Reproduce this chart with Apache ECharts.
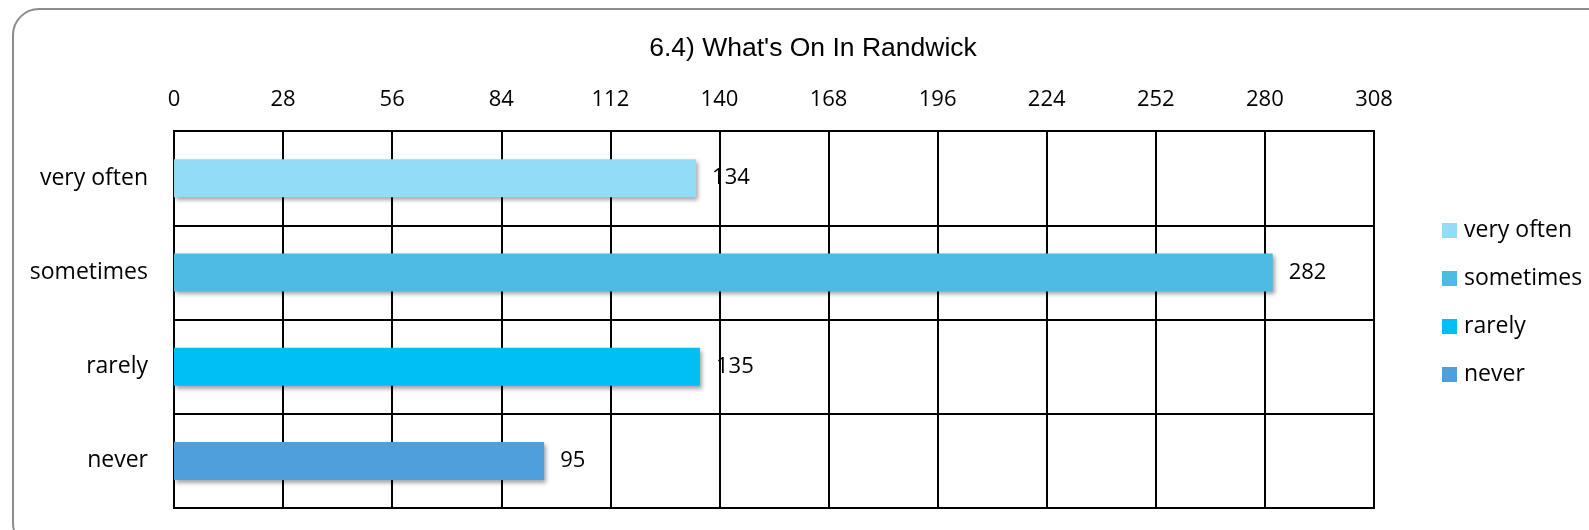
<!DOCTYPE html>
<html>
<head>
<meta charset="utf-8">
<script src="https://cdn.jsdelivr.net/npm/echarts@6/dist/echarts.min.js"></script>
<style>
html,body{margin:0;padding:0;background:#fff;}
#chart{width:1589px;height:530px;}
</style>
</head>
<body>
<div id="chart"></div>
<script>
const titleText = "6.4) What's On In Randwick";
const categories = ["very often", "sometimes", "rarely", "never"];
const values = [134, 282, 135, 95];
const colors = ["#92DCF7", "#4DBBE3", "#00C0F3", "#4E9FDC"];
const axisMin = 0, axisMax = 308, axisStep = 28;

const font = "Open Sans";
const chart = echarts.init(document.getElementById('chart'));

const series = categories.map((name, i) => ({
  name: name,
  type: 'bar',
  stack: 'all',
  barWidth: 38,
  data: categories.map((c, j) => (j === i ? values[i] : '-')),
  itemStyle: {
    color: colors[i],
    shadowColor: 'rgba(0,0,0,0.35)',
    shadowBlur: 4,
    shadowOffsetX: 2,
    shadowOffsetY: 3
  },
  label: {
    show: true,
    position: 'right',
    distance: 16,
    color: '#000',
    fontFamily: font,
    fontSize: 22,
    padding: [4, 0, 0, 0]
  },
  z: 3
}));

chart.setOption({
  animation: false,
  backgroundColor: '#fff',
  graphic: [{
    type: 'rect',
    shape: { x: 13, y: 9, width: 1600, height: 540, r: 26 },
    style: { fill: 'none', stroke: '#8c8c8c', lineWidth: 2 },
    z: -1
  }],
  title: {
    text: titleText,
    left: 808,
    textAlign: 'center',
    top: 30,
    textStyle: { fontFamily: 'Liberation Sans', fontSize: 26.5, fontWeight: 'normal', color: '#000' }
  },
  legend: {
    orient: 'vertical',
    left: 1437,
    top: 214,
    itemWidth: 15,
    itemHeight: 15,
    itemGap: 25,
    icon: 'rect',
    textStyle: { fontFamily: font, fontSize: 23, color: '#000', padding: [0, 0, 0, 2] },
    data: categories
  },
  grid: {
    left: 174, top: 131, width: 1200, height: 377,
    show: true, borderColor: '#000', borderWidth: 2, backgroundColor: 'transparent'
  },
  xAxis: {
    type: 'value',
    position: 'top',
    min: axisMin, max: axisMax, interval: axisStep,
    axisLine: { show: true, lineStyle: { color: '#000', width: 2 } },
    axisTick: { show: false },
    splitLine: { show: true, lineStyle: { color: '#000', width: 2 } },
    axisLabel: { color: '#000', fontFamily: font, fontSize: 22, margin: 20 }
  },
  yAxis: {
    type: 'category',
    inverse: true,
    data: categories,
    axisLine: { show: true, lineStyle: { color: '#000', width: 2 } },
    axisTick: { show: false },
    splitLine: { show: true, lineStyle: { color: '#000', width: 2 } },
    axisLabel: { color: '#000', fontFamily: font, fontSize: 23, margin: 26, padding: [3, 0, 0, 0] }
  },
  series: series
});
</script>
</body>
</html>
